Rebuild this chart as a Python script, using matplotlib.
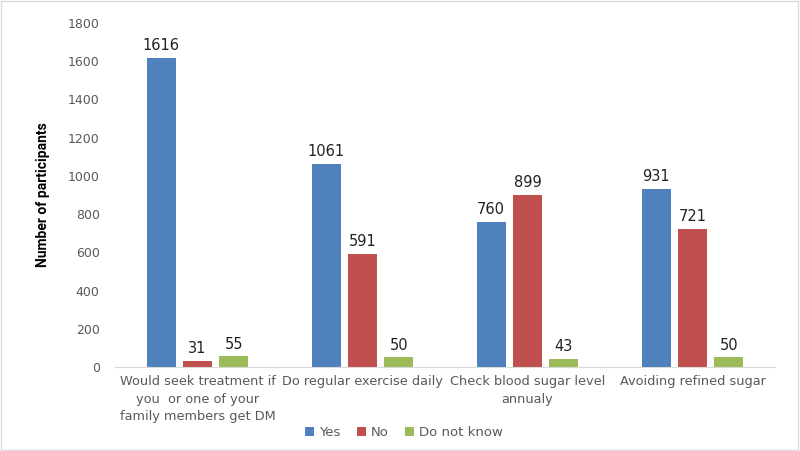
import matplotlib
matplotlib.use("Agg")
import matplotlib.pyplot as plt
import numpy as np

categories = ["Would seek treatment if\nyou  or one of your\nfamily members get DM",
              "Do regular exercise daily",
              "Check blood sugar level\nannualy",
              "Avoiding refined sugar"]
yes = [1616, 1061, 760, 931]
no = [31, 591, 899, 721]
dont_know = [55, 50, 43, 50]
series_names = ["Yes", "No", "Do not know"]
colors = ["#4F81BD", "#C0504D", "#9BBB59"]
yticks = [0, 200, 400, 600, 800, 1000, 1200, 1400, 1600, 1800]

fig = plt.figure(figsize=(8, 4.51), dpi=100)
ax = fig.add_axes([0.14375, 0.1863, 0.825, 0.7627])

x = np.arange(len(categories))
width = 0.176
step = 0.221
for i, (vals, name, c) in enumerate(zip([yes, no, dont_know], series_names, colors)):
    pos = x + (i - 1) * step
    bars = ax.bar(pos, vals, width=width, color=c, label=name)
    for xp, v in zip(pos, vals):
        ax.text(xp, v + 25, str(v), ha="center", va="bottom", fontsize=10.5, color="#222222")

ax.set_xlim(-0.5, len(categories) - 0.5)
ax.set_ylim(0, 1800)
ax.set_yticks(yticks)
ax.set_xticks(x)
ax.set_xticklabels(categories, fontsize=9.3, color="#595959", linespacing=1.45)
ax.tick_params(axis="y", labelsize=9, labelcolor="#595959", length=0, pad=11)
ax.tick_params(axis="x", length=0, pad=6)
for s in ["top", "right", "left"]:
    ax.spines[s].set_visible(False)
ax.spines["bottom"].set_color("#D9D9D9")
ax.set_ylabel("Number of participants", fontsize=10, fontweight="bold", color="black",
              labelpad=13, family=["Roboto", "DejaVu Sans"])

leg = fig.legend(loc="center", bbox_to_anchor=(0.505, 0.04), ncol=3, frameon=False,
                 fontsize=9.5, handlelength=0.7, handleheight=0.7, handletextpad=0.4,
                 columnspacing=1.2)
for t in leg.get_texts():
    t.set_color("#595959")

fig.patches.append(plt.Rectangle((0.001, 0.002), 0.997, 0.995, transform=fig.transFigure,
                                 fill=False, edgecolor="#D9D9D9", linewidth=1))

fig.savefig("out.png", dpi=100)
